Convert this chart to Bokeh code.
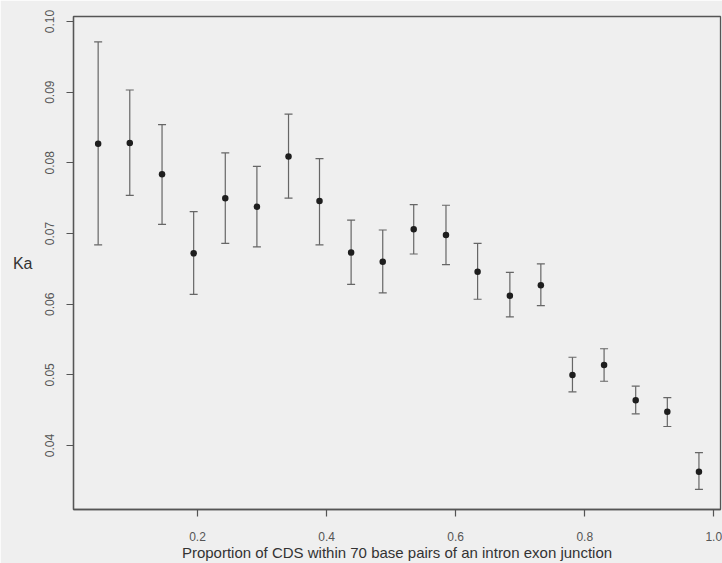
from bokeh.plotting import figure
from bokeh.models import ColumnDataSource, Whisker, TeeHead, FixedTicker, Range1d
from bokeh.embed import file_html
from bokeh.resources import INLINE

# Data
x_vals = [0.046, 0.095, 0.145, 0.194, 0.243, 0.292, 0.341, 0.389, 0.438, 0.487,
          0.535, 0.585, 0.634, 0.684, 0.732, 0.781, 0.830, 0.879, 0.928, 0.977]
ka_mean = [0.0827, 0.0828, 0.0784, 0.0672, 0.0750, 0.0738, 0.0809, 0.0746, 0.0673, 0.0660,
           0.0706, 0.0698, 0.0646, 0.0612, 0.0627, 0.0500, 0.0514, 0.0464, 0.0448, 0.0363]
ka_upper = [0.0971, 0.0903, 0.0854, 0.0731, 0.0814, 0.0795, 0.0869, 0.0806, 0.0719, 0.0705,
            0.0741, 0.0740, 0.0686, 0.0645, 0.0657, 0.0525, 0.0537, 0.0484, 0.0468, 0.0390]
ka_lower = [0.0684, 0.0754, 0.0713, 0.0614, 0.0686, 0.0681, 0.0750, 0.0684, 0.0628, 0.0616,
            0.0671, 0.0656, 0.0607, 0.0582, 0.0598, 0.0476, 0.0491, 0.0445, 0.0427, 0.0338]
x_ticks = [0.2, 0.4, 0.6, 0.8, 1.0]
x_tick_labels = ["0.2", "0.4", "0.6", "0.8", "1.0"]
y_ticks = [0.04, 0.05, 0.06, 0.07, 0.08, 0.09, 0.10]
y_tick_labels = ["0.04", "0.05", "0.06", "0.07", "0.08", "0.09", "0.10"]

src = ColumnDataSource(dict(x=x_vals, y=ka_mean, upper=ka_upper, lower=ka_lower))

BG = "#efefef"
AX = "#555555"
FONT = "Liberation Sans"

p = figure(width=722, height=563, output_backend="svg", toolbar_location=None,
           x_range=Range1d(0.0078, 1.0104), y_range=Range1d(0.03096, 0.1007),
           min_border_left=73, min_border_right=2, min_border_top=16, min_border_bottom=52,
           background_fill_color=BG, border_fill_color=BG)

p.outline_line_color = AX
p.outline_line_width = 1.3
p.xgrid.visible = False
p.ygrid.visible = False

whisk = Whisker(source=src, base="x", upper="upper", lower="lower",
                line_color="#666666", line_width=1.2,
                upper_head=TeeHead(size=8, line_color="#666666", line_width=1.2),
                lower_head=TeeHead(size=8, line_color="#666666", line_width=1.2))
p.add_layout(whisk)
p.scatter("x", "y", source=src, size=6.5, fill_color="#1e1e1e", line_color=None)

for ax in (p.xaxis[0], p.yaxis[0]):
    ax.axis_line_color = AX
    ax.axis_line_width = 1.3
    ax.major_tick_line_color = AX
    ax.major_tick_line_width = 1.2
    ax.major_tick_out = 7
    ax.major_tick_in = 0
    ax.minor_tick_line_color = None
    ax.major_label_text_font = FONT
    ax.major_label_text_font_size = "12px"
    ax.major_label_text_color = "#555555"
    ax.axis_label_text_font = FONT
    ax.axis_label_text_font_style = "normal"
    ax.axis_label_text_color = "#333333"

p.xaxis.ticker = FixedTicker(ticks=x_ticks)
p.xaxis.major_label_overrides = dict(zip(x_ticks, x_tick_labels))
p.xaxis.major_label_standoff = 15
p.xaxis.axis_label = "Proportion of CDS within 70 base pairs of an intron exon junction"
p.xaxis.axis_label_text_font_size = "15px"
p.xaxis.axis_label_standoff = 0

p.yaxis.ticker = FixedTicker(ticks=y_ticks)
p.yaxis.major_label_overrides = dict(zip(y_ticks, y_tick_labels))
p.yaxis.major_label_orientation = "vertical"
p.yaxis.major_label_standoff = 12
p.yaxis.axis_label = "Ka"
p.yaxis.axis_label_text_font_size = "16px"
p.yaxis.axis_label_orientation = "horizontal"
p.yaxis.axis_label_standoff = 10

open("out.html", "w").write(file_html(p, INLINE))
